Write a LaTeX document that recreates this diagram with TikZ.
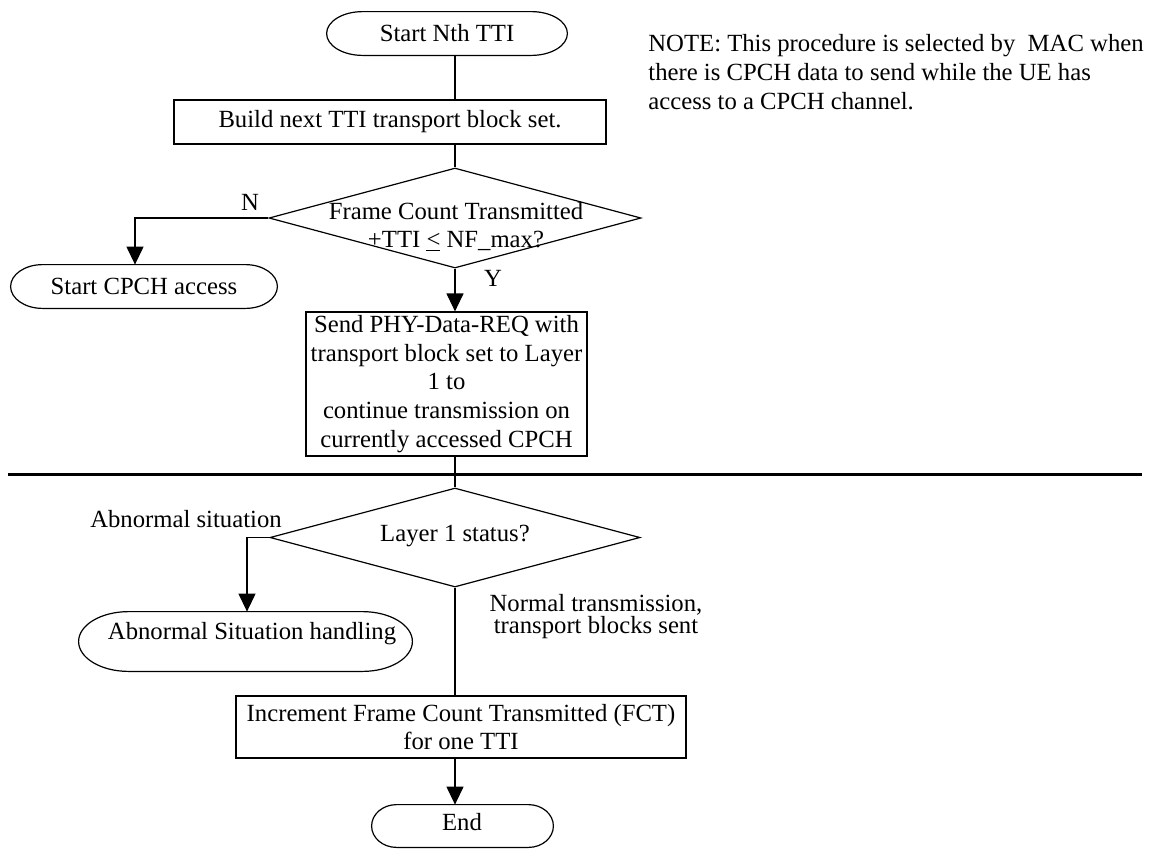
\documentclass[tikz,border=0pt]{standalone}
\usepackage{fontspec}
\setmainfont{Liberation Serif}
\usetikzlibrary{arrows.meta,shapes.geometric,calc}
\newcommand{\termoutline}[2]{%
  \draw[conn] let \p1=(#1.north west), \p2=(#1.south east), \n1={(\y1-\y2)/2} in
    (\x1+#2,\y1) -- (\x2-#2,\y1) arc[start angle=90,end angle=-90,x radius=#2,y radius=\n1]
    -- (\x1+#2,\y2) arc[start angle=270,end angle=90,x radius=#2,y radius=\n1] -- cycle;}
\begin{document}
\begin{tikzpicture}[x=0.5pt,y=-0.5pt,
  every node/.style={font=\fontsize{12.35pt}{14.35pt}\selectfont, inner sep=0pt, align=center},
  conn/.style={line width=0.6pt},
  arr/.style={conn, -{Triangle[length=9pt,width=8.5pt]}},
  proc/.style={draw, line width=0.6pt, rectangle},
  term/.style={rectangle, minimum height=21.5pt},
  dec/.style={draw, line width=0.6pt, diamond},
  lbl/.style={},
  rule/.style={line width=1.1pt}
]
\useasboundingbox (0,0) rectangle (1157,848);
\coordinate (spine) at (455,0);

% nodes
\node[term, minimum width=120pt] (t1) at (447,33.5) {Start Nth TTI};
\node[proc, minimum width=216pt, minimum height=22pt] (b1) at (390,122) {Build next TTI transport block set.};
\node[dec, minimum width=186pt, minimum height=50pt] (d1) at (455,218) {};
\node[lbl] (d1t) at (456,227) {Frame Count Transmitted\\+TTI \underline{<} NF\_max?};
\node[term, minimum width=133pt] (t2) at (144,286.5) {Start CPCH access};
\node[proc, minimum width=140.5pt, minimum height=72pt] (b2) at (446.5,384) {Send PHY-Data-REQ with\\transport block set to Layer\\1 to\\continue transmission on\\currently accessed CPCH};
\node[dec, minimum width=185pt, minimum height=49.5pt] (d2) at (455,537.5) {};
\node[lbl] (d2t) at (455,536) {Layer 1 status?};
\node[term, minimum width=166.5pt, minimum height=29.5pt] (t3) at (245.5,641.5) {};
\node[lbl] (t3t) at (252,634) {Abnormal Situation handling};
\node[proc, minimum width=225pt, minimum height=31pt] (b3) at (461,727) {Increment Frame Count Transmitted (FCT)\\for one TTI};
\node[term, minimum width=90.5pt, minimum height=21pt] (t4) at (462.5,826) {};
\node[lbl] (t4t) at (462,822) {End};

% terminal outlines
\termoutline{t1}{18pt}
\termoutline{t2}{16pt}
\termoutline{t3}{25pt}
\termoutline{t4}{12.5pt}

% labels
\node[lbl] (lN) at (250,202) {N};
\node[lbl] (lY) at (493,278) {Y};
\node[lbl] (lab) at (186,519) {Abnormal situation};
\node[lbl, font=\fontsize{12.35pt}{11pt}\selectfont] (lnorm) at (596,617) {Normal transmission,\\transport blocks sent};
\node[lbl, align=left, anchor=west] (note) at (648,72) {NOTE: This procedure is selected by\ \ MAC when\\there is CPCH data to send while the UE has\\access to a CPCH channel.};

% separator rule
\coordinate (ruleL) at (8,474.5);
\coordinate (ruleR) at (1142,474.5);
\draw[rule] (ruleL) -- (ruleR);

% connectors
\coordinate (nturn) at (135,218);
\coordinate (aturn) at (247,537.5);
\draw[conn] (t1.south -| spine) -- (b1.north -| spine);
\draw[conn] (b1.south -| spine) -- (d1.north);
\draw[arr] (d1.west) -- (nturn) -- (nturn |- t2.north);
\draw[arr] (d1.south) -- (b2.north -| d1.south);
\draw[conn] (b2.south -| spine) -- (d2.north);
\draw[arr] (d2.west) -- (aturn) -- (aturn |- t3.north);
\draw[conn] (d2.south) -- (b3.north -| d2.south);
\draw[arr] (b3.south -| spine) -- (t4.north -| spine);
\end{tikzpicture}
\end{document}
